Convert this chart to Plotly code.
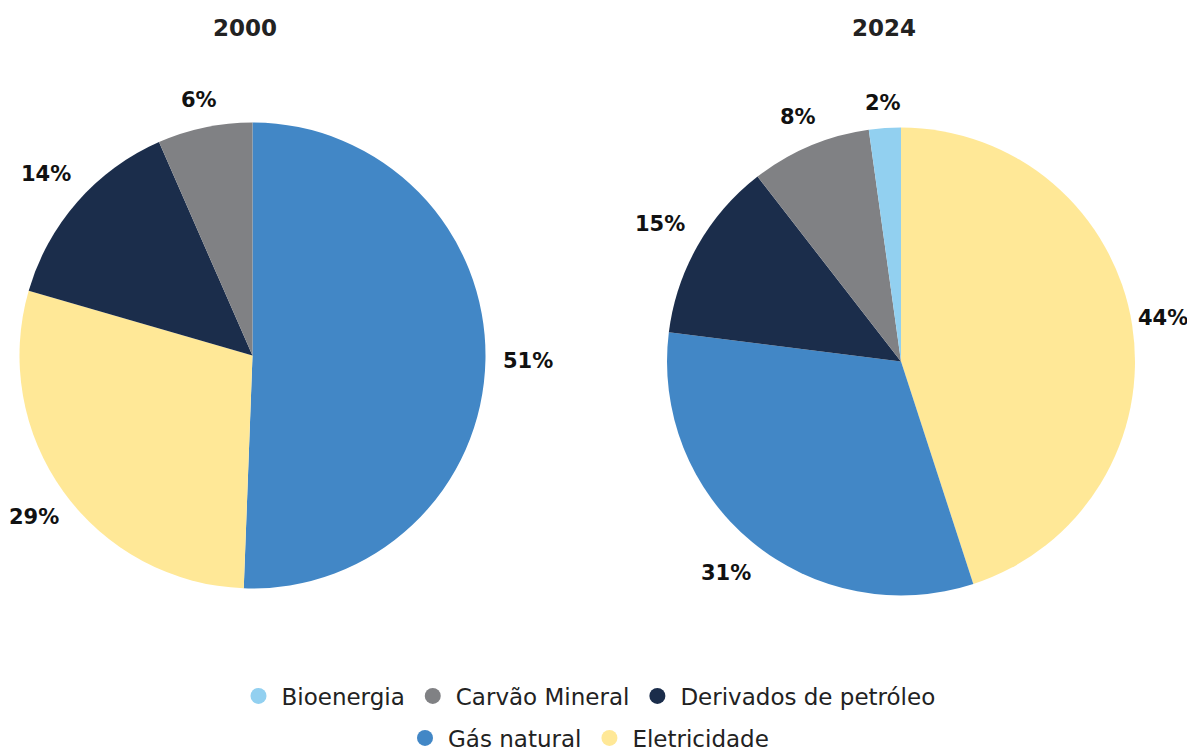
import math
import plotly.graph_objects as go

categories = ["Bioenergia", "Carvão Mineral", "Derivados de petróleo", "Gás natural", "Eletricidade"]
colors = {"Bioenergia": "#92D0F0", "Carvão Mineral": "#808184", "Derivados de petróleo": "#1B2D4B",
          "Gás natural": "#4287C6", "Eletricidade": "#FFE897"}

labels_2000 = ["Gás natural", "Eletricidade", "Derivados de petróleo", "Carvão Mineral"]
values_2000 = [50.8, 29.0, 14.0, 6.6]
text_2000 = ["51%", "29%", "14%", "6%"]

labels_2024 = ["Eletricidade", "Gás natural", "Derivados de petróleo", "Carvão Mineral", "Bioenergia"]
values_2024 = [45.0, 32.0, 12.5, 8.3, 2.2]
text_2024 = ["44%", "31%", "15%", "8%", "2%"]

# page body has an 8px margin; figure fills the rest of the 1195x756 window
OFF = 8
WIN_W, WIN_H = 1195, 756
W, H = WIN_W - OFF, WIN_H - OFF
NUMFONT = "DejaVu Sans"
LEGFONT = "DejaVu Sans"
LBL_SIZE = 21


def px(X):
    return (X - OFF) / W


def py(Y):
    return (H - (Y - OFF)) / H


pies = [
    dict(title="2000", labels=labels_2000, values=values_2000, text=text_2000, cx=252.5, cy=355.5, r=233, tx=245),
    dict(title="2024", labels=labels_2024, values=values_2024, text=text_2024, cx=901, cy=361.5, r=234, tx=884),
]

fig = go.Figure()
annotations = []
for p in pies:
    cx, cy, r = p["cx"], p["cy"], p["r"]
    fig.add_trace(go.Pie(labels=p["labels"], values=p["values"], textinfo="none",
                         sort=False, direction="clockwise", rotation=0,
                         marker=dict(colors=[colors[l] for l in p["labels"]]),
                         showlegend=False, hoverinfo="label+percent",
                         domain=dict(x=[px(cx - r), px(cx + r)], y=[py(cy + r), py(cy - r)])))
    total = sum(p["values"])
    cum = 0.0
    for v, t in zip(p["values"], p["text"]):
        mid = (cum + v / 2) / total * 2 * math.pi
        cum += v
        hw = 0.39 * LBL_SIZE * len(t) + 0.2 * LBL_SIZE   # approx half text width
        hh = 10
        d = r + 14 + hw * abs(math.sin(mid)) + hh * abs(math.cos(mid))
        lx = cx + d * math.sin(mid)
        ly = cy - d * math.cos(mid)
        lx = max(min(lx, WIN_W - hw - 3), hw + 5)
        annotations.append(dict(text=f"<b>{t}</b>", x=px(lx), y=py(ly), xref="paper", yref="paper",
                                xanchor="center", yanchor="middle", showarrow=False,
                                font=dict(family=NUMFONT, size=LBL_SIZE, color="#111111")))
    annotations.append(dict(text=f"<b>{p['title']}</b>", x=px(p["tx"]), y=py(28),
                            xref="paper", yref="paper", xanchor="center", yanchor="middle",
                            showarrow=False, font=dict(family=NUMFONT, size=23, color="#222222")))

for i, c in enumerate(categories):
    fig.add_trace(go.Scatter(x=[None], y=[None], mode="markers", name=c,
                             marker=dict(size=21, color=colors[c], symbol="circle"),
                             legend="legend" if i < 3 else "legend2"))

legend_common = dict(orientation="h", xanchor="center", yanchor="middle", itemwidth=36,
                     font=dict(family=LEGFONT, size=23, color="#222222"), bgcolor="rgba(0,0,0,0)")
fig.update_layout(
    width=W, height=H, paper_bgcolor="white", plot_bgcolor="white",
    margin=dict(l=0, r=0, t=0, b=0, autoexpand=False),
    xaxis=dict(visible=False), yaxis=dict(visible=False),
    legend=dict(x=px(588), y=py(696), **legend_common),
    legend2=dict(x=px(588), y=py(738), **legend_common),
    annotations=annotations,
)
fig.write_html("out.html")
